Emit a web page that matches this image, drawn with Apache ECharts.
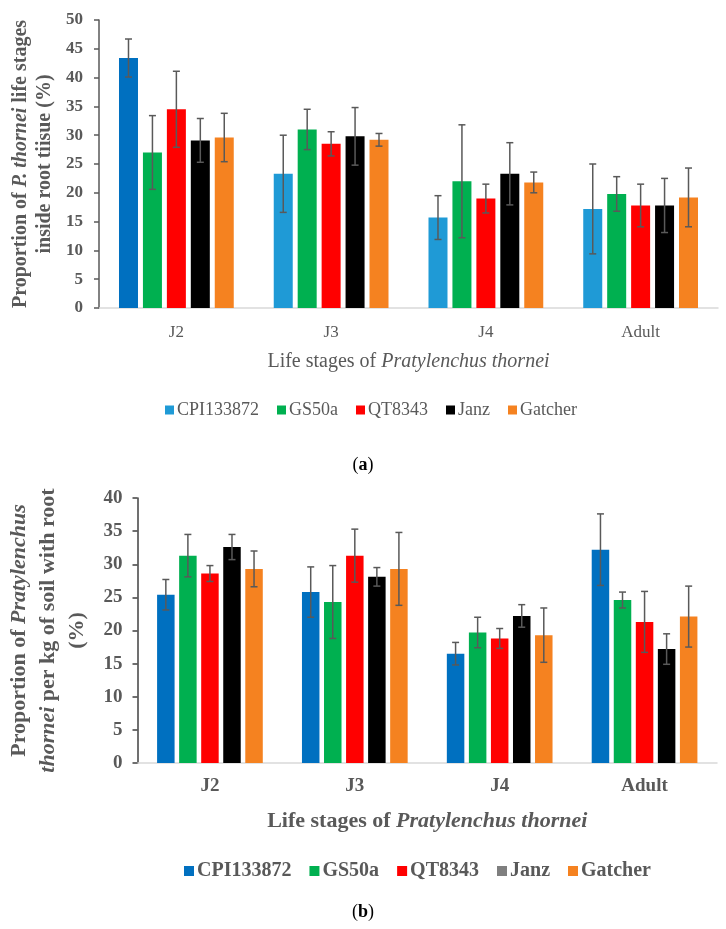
<!DOCTYPE html>
<html>
<head>
<meta charset="utf-8">
<script src="https://cdn.jsdelivr.net/npm/echarts@6/dist/echarts.min.js"></script>
<style>
html,body{margin:0;padding:0;background:#fff;}
#main{width:726px;height:929px;}
</style>
</head>
<body>
<div id="main"></div>
<script>
// ---------- DATA ----------
const categories = ['J2', 'J3', 'J4', 'Adult'];
const cultivars = ['CPI133872', 'GS50a', 'QT8343', 'Janz', 'Gatcher'];
const yTicksA = [0, 5, 10, 15, 20, 25, 30, 35, 40, 45, 50];
const yTicksB = [0, 5, 10, 15, 20, 25, 30, 35, 40];

// (a) proportion inside root tissue (%) – means and error half-lengths
const aCPI = [43.4, 23.3, 15.7, 17.2];
const aCPIerr = [3.3, 6.7, 3.8, 7.8];
const aGS = [27.0, 31.0, 22.0, 19.8];
const aGSerr = [6.4, 3.5, 9.8, 3.0];
const aQT = [34.5, 28.5, 19.0, 17.8];
const aQTerr = [6.6, 2.1, 2.5, 3.7];
const aJanz = [29.1, 29.8, 23.3, 17.8];
const aJanzerr = [3.8, 5.0, 5.4, 4.7];
const aGat = [29.6, 29.2, 21.8, 19.2];
const aGaterr = [4.2, 1.1, 1.8, 5.1];

// (b) proportion per kg of soil with root (%)
const bCPI = [25.4, 25.8, 16.5, 32.2];
const bCPIerr = [2.3, 3.8, 1.7, 5.4];
const bGS = [31.3, 24.3, 19.7, 24.6];
const bGSerr = [3.2, 5.5, 2.3, 1.2];
const bQT = [28.6, 31.3, 18.8, 21.3];
const bQTerr = [1.2, 4.0, 1.5, 4.6];
const bJanz = [32.6, 28.1, 22.2, 17.2];
const bJanzerr = [1.9, 1.4, 1.7, 2.3];
const bGat = [29.3, 29.3, 19.3, 22.1];
const bGaterr = [2.7, 5.5, 4.1, 4.6];

// ---------- STYLE ----------
const SERIF = '"Liberation Serif", "DejaVu Serif", serif';
const GRAY = '#595959';
const colA = ['#1f9ad6', '#00b050', '#ff0000', '#000000', '#f58220'];
const colB = ['#0070c0', '#00b050', '#ff0000', '#000000', '#f58220'];
const legendB = ['#0070c0', '#00b050', '#ff0000', '#7f7f7f', '#f58220'];

const A = { grid: { left: 99, top: 20, width: 619, height: 288 }, bw: 19, gapPct: 0.26 };
const B = { grid: { left: 137, top: 498, width: 580, height: 265 }, bw: 17.5, gapPct: 0.26 };

const aMeans = [aCPI, aGS, aQT, aJanz, aGat];
const aErrs = [aCPIerr, aGSerr, aQTerr, aJanzerr, aGaterr];
const bMeans = [bCPI, bGS, bQT, bJanz, bGat];
const bErrs = [bCPIerr, bGSerr, bQTerr, bJanzerr, bGaterr];

function barSeries(gi, cfg, means, cols, firstOverride) {
  return means.map((m, i) => ({
    type: 'bar', name: cultivars[i], xAxisIndex: gi, yAxisIndex: gi,
    barWidth: cfg.bw, barGap: (cfg.gapPct * 100) + '%',
    itemStyle: { color: cols[i] },
    data: m.map((v, j) => (firstOverride && i === 0 && j === 0)
      ? { value: v, itemStyle: { color: firstOverride } } : v),
    silent: true
  }));
}

function errSeries(gi, cfg, means, errs) {
  return means.map((m, idx) => ({
    type: 'custom', name: cultivars[idx], xAxisIndex: gi, yAxisIndex: gi, z: 10, silent: true,
    data: m.map((v, j) => [j, v - errs[idx][j], v + errs[idx][j]]),
    encode: { x: 0, y: [1, 2] },
    renderItem: function (params, api) {
      const x = api.value(0);
      const lo = api.coord([x, api.value(1)]);
      const hi = api.coord([x, api.value(2)]);
      const bw = cfg.bw, gap = cfg.bw * cfg.gapPct, n = 5;
      const total = n * bw + (n - 1) * gap;
      const cx = lo[0] - total / 2 + idx * (bw + gap) + bw / 2;
      const cap = 3.5;
      const style = { stroke: GRAY, lineWidth: 1.5 };
      return {
        type: 'group', children: [
          { type: 'line', shape: { x1: cx, y1: lo[1], x2: cx, y2: hi[1] }, style: style },
          { type: 'line', shape: { x1: cx - cap, y1: hi[1], x2: cx + cap, y2: hi[1] }, style: style },
          { type: 'line', shape: { x1: cx - cap, y1: lo[1], x2: cx + cap, y2: lo[1] }, style: style }
        ]
      };
    }
  }));
}

function richSet(size, bold, lh) {
  const base = { fontFamily: SERIF, fontSize: size, fontWeight: bold ? 'bold' : 'normal', color: GRAY };
  if (lh) base.lineHeight = lh;
  return { n: Object.assign({}, base), i: Object.assign({}, base, { fontStyle: 'italic' }) };
}

const option = {
  animation: false,
  backgroundColor: '#fff',
  grid: [A.grid, B.grid],
  xAxis: [
    {
      type: 'category', gridIndex: 0, data: categories,
      axisLine: { lineStyle: { color: '#d9d9d9', width: 1.5 } },
      axisTick: { show: false },
      axisLabel: { fontFamily: SERIF, fontSize: 17, color: GRAY, margin: 16 },
      name: '{n|Life stages of }{i|Pratylenchus thornei}',
      nameLocation: 'middle', nameGap: 44,
      nameTextStyle: { rich: richSet(20, false) }
    },
    {
      type: 'category', gridIndex: 1, data: categories,
      axisLine: { lineStyle: { color: '#d9d9d9', width: 1.5 } },
      axisTick: { show: false },
      axisLabel: { fontFamily: SERIF, fontSize: 19, fontWeight: 'bold', color: GRAY, margin: 14 },
      name: '{n|Life stages of }{i|Pratylenchus thornei}',
      nameLocation: 'middle', nameGap: 47,
      nameTextStyle: { rich: richSet(22, true) }
    }
  ],
  yAxis: [
    {
      type: 'value', gridIndex: 0, min: yTicksA[0], max: yTicksA[yTicksA.length - 1], interval: 5,
      splitLine: { show: false },
      axisLine: { show: true, lineStyle: { color: GRAY, width: 1.5 } },
      axisTick: { show: true, length: 5, lineStyle: { color: GRAY, width: 1.5 } },
      axisLabel: { fontFamily: SERIF, fontSize: 17, fontWeight: 'bold', color: GRAY, margin: 16 },
      name: '{n|Proportion of }{i|P. thornei}{n| life stages}\n{n|inside root tiisue (%)}',
      nameLocation: 'middle', nameGap: 42, nameRotate: 90,
      nameTextStyle: { rich: richSet(20, true, 24) }
    },
    {
      type: 'value', gridIndex: 1, min: yTicksB[0], max: yTicksB[yTicksB.length - 1], interval: 5,
      splitLine: { show: false },
      axisLine: { show: true, lineStyle: { color: '#404040', width: 1.5 } },
      axisTick: { show: true, length: 5, lineStyle: { color: '#404040', width: 1.5 } },
      axisLabel: { fontFamily: SERIF, fontSize: 19, fontWeight: 'bold', color: GRAY, margin: 15 },
      name: '{n|Proportion of }{i|Pratylenchus}\n{i|thornei}{n| per kg of soil with root}\n{n|(%)}',
      nameLocation: 'middle', nameGap: 46, nameRotate: 90,
      nameTextStyle: { rich: richSet(22, true, 29) }
    }
  ],
  legend: [
    {
      left: 160, top: 396, icon: 'rect', itemWidth: 9, itemHeight: 9, itemGap: 18, selectedMode: false,
      textStyle: { fontFamily: SERIF, fontSize: 18, color: GRAY, padding: [0, 0, 0, -2] },
      data: cultivars.map((c, i) => ({ name: c, itemStyle: { color: colA[i] } }))
    },
    {
      left: 179, top: 856, icon: 'rect', itemWidth: 10, itemHeight: 10, itemGap: 18, selectedMode: false,
      textStyle: { fontFamily: SERIF, fontSize: 20, fontWeight: 'bold', color: GRAY, padding: [0, 0, 0, -2] },
      data: cultivars.map((c, i) => ({ name: c, itemStyle: { color: legendB[i] } }))
    }
  ],
  graphic: [
    {
      type: 'text', left: 'center', top: 456,
      style: { text: '({b|a})', fontFamily: SERIF, fontSize: 18, fill: '#000',
        rich: { b: { fontFamily: SERIF, fontSize: 18, fontWeight: 'bold', fill: '#000' } } }
    },
    {
      type: 'text', left: 'center', top: 903,
      style: { text: '({b|b})', fontFamily: SERIF, fontSize: 18, fill: '#000',
        rich: { b: { fontFamily: SERIF, fontSize: 18, fontWeight: 'bold', fill: '#000' } } }
    }
  ],
  series: [].concat(
    barSeries(0, A, aMeans, colA, '#0070c0'),
    barSeries(1, B, bMeans, colB, null),
    errSeries(0, A, aMeans, aErrs),
    errSeries(1, B, bMeans, bErrs)
  )
};

const chart = echarts.init(document.getElementById('main'), null, { renderer: 'canvas' });
chart.setOption(option);
</script>
</body>
</html>
